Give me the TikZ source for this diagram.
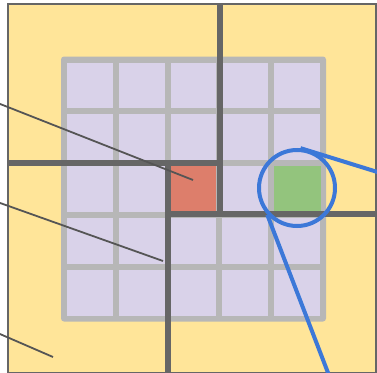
\documentclass[tikz,border=0pt]{standalone}
\usepackage{tikz}
\usetikzlibrary{positioning}
\definecolor{sand}{HTML}{FFE599}
\definecolor{lilac}{HTML}{D9D2E9}
\definecolor{gridgray}{HTML}{B7B7B7}
\definecolor{wallgray}{HTML}{666666}
\definecolor{pointgray}{HTML}{555555}
\definecolor{hotred}{HTML}{DD7E6B}
\definecolor{goalgreen}{HTML}{93C47D}
\definecolor{lensblue}{HTML}{3C78D8}

\begin{document}
\begin{tikzpicture}[
  x=1pt,y=-1pt,
  cell/.style={fill=lilac,minimum size=45.8pt,inner sep=0pt,outer sep=0pt},
  wall/.style={line width=6pt,draw=wallgray},
  pointer/.style={line width=1.8pt,draw=pointgray},
  lens/.style={line width=4pt,draw=lensblue}
]
\useasboundingbox (0,0) rectangle (377,372);
\clip (0,0) rectangle (377,372);
\draw[fill=sand,draw=wallgray,line width=1.5pt] (8,4) rectangle (376,372.5);
\fill[gridgray,rounded corners=3pt] (61,56.5) rectangle (326,321.5);
\foreach \c in {0,...,4}
  \foreach \r in {0,...,4}
    \node[cell] (c\r\c) at ({89.9+51.8*\c},{85.4+51.8*\r}) {};
\node[cell,fill=hotred] (hot) at (c22) {};
\node[cell,fill=goalgreen,minimum size=47pt] (goal) at (c24) {};
% walls
\draw[wall] (8,163) -- (220,163);
\draw[wall] (220,4) -- (220,214);
\draw[wall] (168,163) -- (168,372);
\draw[wall] (168,214) -- (376,214);
% pointers from the left
\coordinate (srcA) at (-10,100);  \coordinate (tipA) at (193,180);
\coordinate (srcB) at (-10,199.4); \coordinate (tipB) at (163,261);
\coordinate (srcC) at (-10,329.7); \coordinate (tipC) at (53,357);
\draw[pointer] (srcA) -- (tipA);
\draw[pointer] (srcB) -- (tipB);
\draw[pointer] (srcC) -- (tipC);
% lens on the goal cell
\node[circle,lens,minimum size=76pt,inner sep=0pt] (ring) at (297,188) {};
\coordinate (outR) at (400,179);
\coordinate (outB) at (340,404);
\draw[lens] (ring.85) -- (outR);
\draw[lens] (ring.222) -- (outB);
\end{tikzpicture}
\end{document}
